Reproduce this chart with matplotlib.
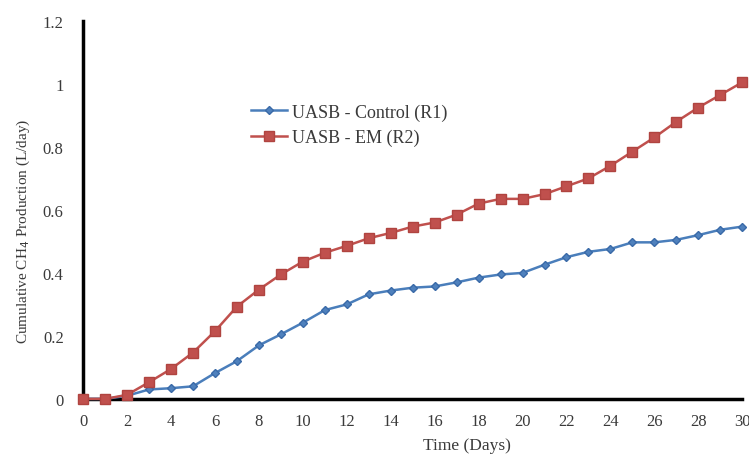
import matplotlib
matplotlib.use("Agg")
import matplotlib.pyplot as plt

# Cumulative CH4 production
days = list(range(0, 31))
control_r1 = [0, 0, 0.01, 0.03, 0.034, 0.04, 0.082, 0.12, 0.17, 0.205, 0.242,
              0.282, 0.30, 0.332, 0.344, 0.353, 0.357, 0.37, 0.385, 0.395, 0.40,
              0.426, 0.45, 0.467, 0.476, 0.497, 0.497, 0.505, 0.52, 0.537, 0.547]
em_r2 = [0, 0, 0.013, 0.053, 0.095, 0.147, 0.215, 0.293, 0.347, 0.395, 0.436,
         0.464, 0.486, 0.51, 0.527, 0.547, 0.56, 0.585, 0.62, 0.635, 0.635,
         0.65, 0.675, 0.70, 0.74, 0.785, 0.83, 0.88, 0.925, 0.965, 1.005]

x_ticks = list(range(0, 31, 2))
y_ticks = [0, 0.2, 0.4, 0.6, 0.8, 1.0, 1.2]
y_tick_labels = ["0", "0.2", "0.4", "0.6", "0.8", "1", "1.2"]

plt.rcParams['font.family'] = ['Liberation Serif', 'DejaVu Serif']

fig = plt.figure(figsize=(7.49, 4.56), dpi=100)
ax = fig.add_axes([0.111, 0.123, 0.88, 0.829])

ax.plot(days, control_r1, color='#4A7EBB', linewidth=1.8, marker='D',
        markersize=4.5, markerfacecolor='#4F81BD', markeredgecolor='#3A6AA8',
        label='UASB - Control (R1)', clip_on=False, zorder=3)
ax.plot(days, em_r2, color='#C0504D', linewidth=1.8, marker='s',
        markersize=7, markerfacecolor='#C0504D', markeredgecolor='#B04440',
        label='UASB - EM (R2)', clip_on=False, zorder=4)

ax.set_xlim(0, 30)
ax.set_ylim(0, 1.2)
ax.set_xticks(x_ticks)
ax.set_yticks(y_ticks)
ax.set_yticklabels(y_tick_labels)
ax.tick_params(length=0, labelsize=12, colors='#3a3a3a', pad=10)
ax.tick_params(axis='y', pad=14)

for side in ['top', 'right']:
    ax.spines[side].set_visible(False)
for side in ['left', 'bottom']:
    ax.spines[side].set_linewidth(2.5)
    ax.spines[side].set_color('black')

ax.set_xlabel('Time (Days)', fontsize=12.5, color='#3a3a3a')
ax.xaxis.set_label_coords(0.583, -0.1)
ax.set_ylabel('Cumulative CH$_4$ Production (L/day)', fontsize=11,
              color='#3a3a3a')
ax.yaxis.set_label_coords(-0.078, 0.447)

ax.legend(loc='upper left', bbox_to_anchor=(0.23, 0.825), frameon=False,
          fontsize=13, handlelength=2.0, handletextpad=0.25, labelspacing=0.45,
          labelcolor='#3a3a3a')

fig.savefig('out.png', dpi=100)
